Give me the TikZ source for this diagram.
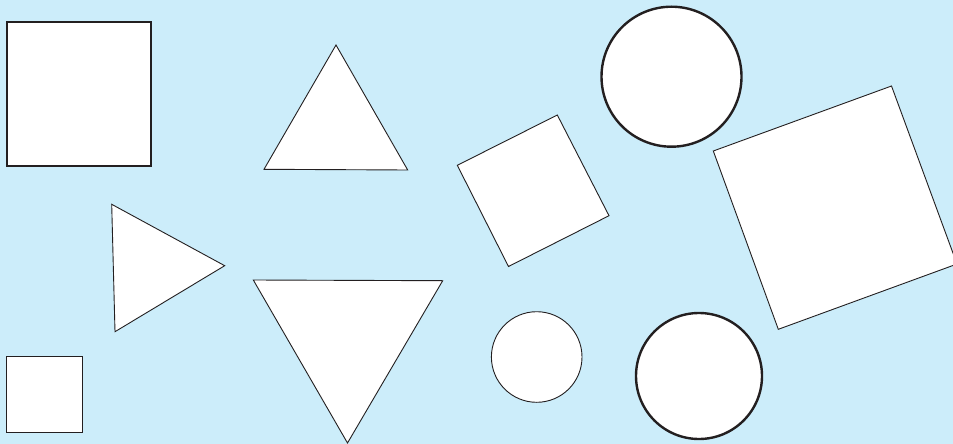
\documentclass[tikz,border=0pt]{standalone}
\definecolor{bgblue}{RGB}{204,237,250}
\definecolor{ink}{RGB}{35,31,32}
\begin{document}
\begin{tikzpicture}[x=1pt,y=-1pt,
  thinshape/.style={draw=ink,fill=white,line width=0.9pt,line join=miter},
  thickshape/.style={draw=ink,fill=white,line width=2.4pt,line join=miter}]
\fill[bgblue] (0,0) rectangle (953,444);
\useasboundingbox (0,0) rectangle (953,444);
\clip (0,0) rectangle (953,444);
% top-left square
\draw[thickshape] (7,22) rectangle (151,166);
% small square
\draw[thinshape] (6.5,356) rectangle (82,432);
% up triangle
\draw[thinshape] (336,45) -- (407.7,170) -- (264,169.3) -- cycle;
% right triangle
\draw[thinshape] (111.7,204.3) -- (224.7,265.7) -- (115,331.7) -- cycle;
% down triangle
\draw[thinshape] (253.3,280) -- (442.7,280.7) -- (347.5,443) -- cycle;
% middle rotated square
\draw[thinshape] (457.3,165.3) -- (557.3,115) -- (609,215.7) -- (508.5,266.5) -- cycle;
% big rotated square
\draw[thinshape] (713.3,151) -- (891.5,86) -- (957,264) -- (778.3,329.3) -- cycle;
% circles
\draw[thickshape] (671.5,76.7) circle[radius=70];
\draw[thinshape] (536.7,357) circle[radius=45.3];
\draw[thickshape] (699,376) circle[radius=63];
\end{tikzpicture}
\end{document}
